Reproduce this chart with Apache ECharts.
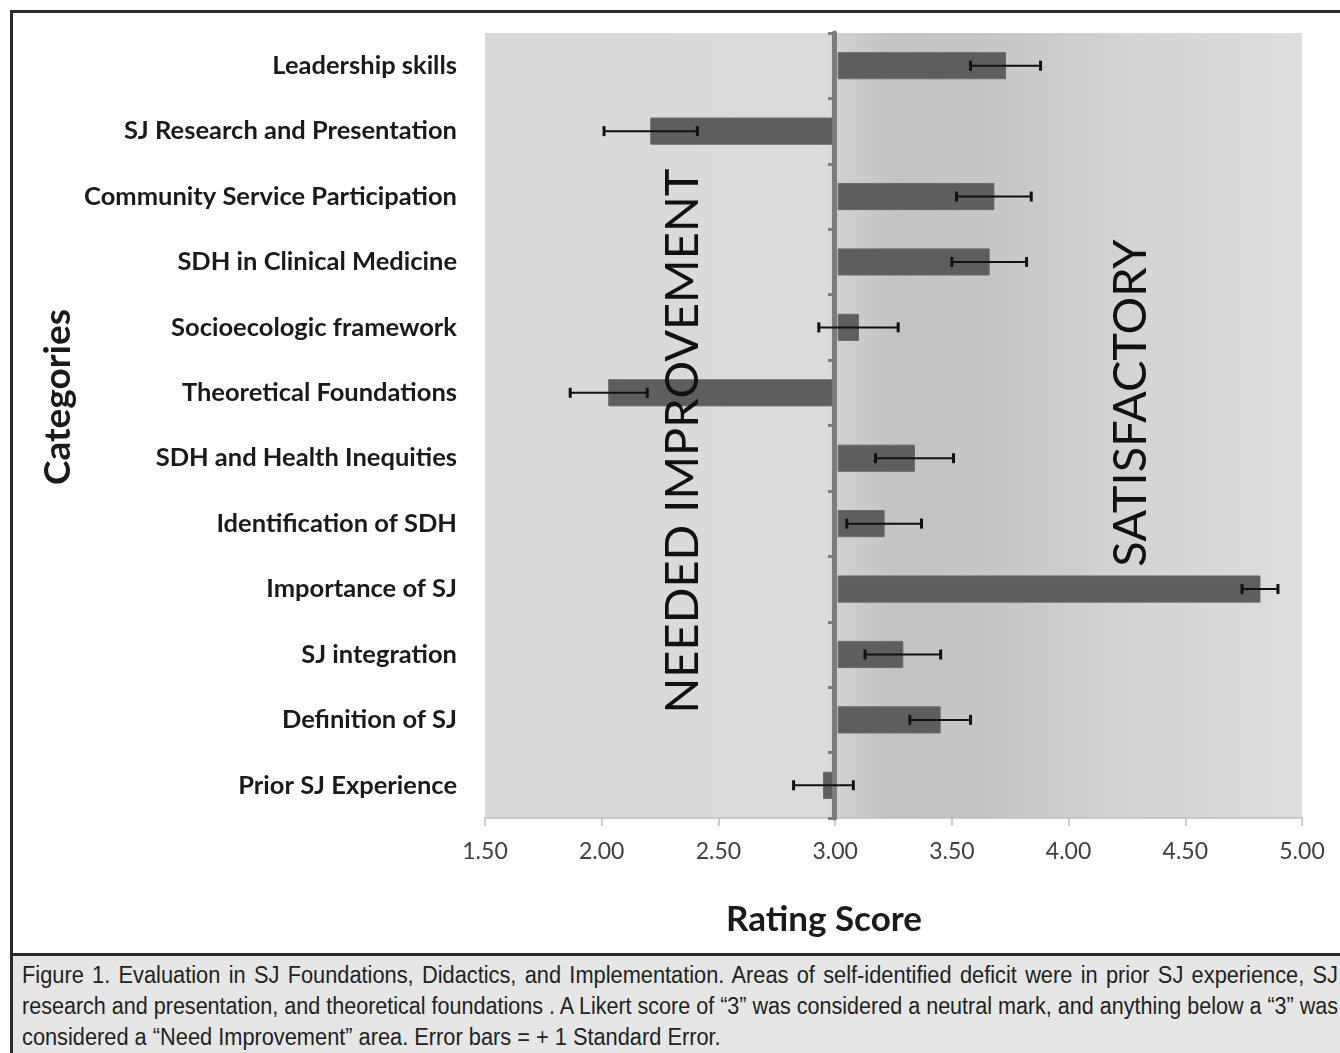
<!doctype html>
<html lang="en">
<head>
    <meta charset="UTF-8">
    <title>Figure 1 - Rating Score</title>
    <script type="text/javascript" src="https://cdn.jsdelivr.net/npm/echarts@6/dist/echarts.min.js"></script>
    <style>
        html, body { margin: 0; padding: 0; background: #fff; }
        body { width: 1340px; height: 1053px; position: relative; overflow: hidden; }
        .frame {
            position: absolute; left: 10px; top: 10px; width: 1340px; height: 1043px;
            border-left: 3px solid #2b2b2b; border-top: 3px solid #2b2b2b; box-sizing: border-box;
        }
        #chart { position: absolute; left: 0; top: 0; width: 1340px; height: 953px; }
        .caption {
            position: absolute; left: 10px; top: 953px; width: 1340px; height: 100px;
            border-left: 3px solid #2b2b2b; border-top: 3px solid #2b2b2b; box-sizing: border-box;
            background: #e6e6e6; padding: 4px 0 0 9px;
            font-family: "Liberation Sans", Arial, sans-serif;
            font-size: 23px; line-height: 31px; color: #222;
        }
        .caption .ln { white-space: nowrap; transform-origin: 0 0; }
        .caption .j { text-align: justify; text-align-last: justify; }
    </style>
</head>
<body>
<div class="frame"></div>
<div id="chart"></div>
<div class="caption">
    <div class="ln j"><span>Figure 1. Evaluation in SJ Foundations, Didactics, and Implementation. Areas of self-identified deficit were in prior SJ experience, SJ</span></div>
    <div class="ln j"><span>research and presentation, and theoretical foundations . A Likert score of “3” was considered a neutral mark, and anything below a “3” was</span></div>
    <div class="ln"><span id="lastText">considered a “Need Improvement” area. Error bars = + 1 Standard Error.</span></div>
</div>
<script>
    // categories, top to bottom
    var categories = ['Leadership skills', 'SJ Research and Presentation', 'Community Service Participation',
        'SDH in Clinical Medicine', 'Socioecologic framework', 'Theoretical Foundations',
        'SDH and Health Inequities', 'Identification of SDH', 'Importance of SJ',
        'SJ integration', 'Definition of SJ', 'Prior SJ Experience'];
    // mean rating scores
    var scores = [3.73, 2.21, 3.68, 3.66, 3.10, 2.03, 3.34, 3.21, 4.82, 3.29, 3.45, 2.95];
    // standard error
    var stdErr = [0.15, 0.20, 0.16, 0.16, 0.17, 0.165, 0.167, 0.16, 0.077, 0.162, 0.13, 0.128];
    var neutral = 3;
    var xTicks = [1.5, 2, 2.5, 3, 3.5, 4, 4.5, 5];

    //caption is a narrow font in the original: squeeze the lines
    (function () {
        var lineW = 1316;
        var s = 699 / document.getElementById('lastText').offsetWidth;
        var lines = document.querySelectorAll('.caption .ln');
        for (var k = 0; k < lines.length; k++) {
            var natural = lines[k].firstElementChild.offsetWidth;
            var sk = Math.min(s, lineW / natural);
            lines[k].style.transform = 'scaleX(' + sk + ')';
            lines[k].style.width = (lineW / sk) + 'px';
        }
    })();

    var chart = echarts.init(document.getElementById('chart'));
    var font = 'Lato, "Open Sans", sans-serif';

    var barData = [], errData = [];
    for (var i = 0; i < categories.length; i++) {
        barData.push([scores[i], i]);
        errData.push([scores[i], i, stdErr[i]]);
    }

    //bars drawn from the neutral mark
    function renderBar(params, api) {
        var idx = api.value(1);
        var p0 = api.coord([neutral, idx]);
        var p1 = api.coord([api.value(0), idx]);
        var h = api.size([0, 1])[1] * 0.4;
        var x = Math.min(p0[0], p1[0]);
        var w = Math.abs(p1[0] - p0[0]);
        if (p1[0] > p0[0]) { x += 3; w -= 3; }
        return {
            type: 'rect',
            shape: { x: x, y: p0[1] - h / 2, width: w, height: h },
            style: { fill: '#5e5e5e', stroke: '#6a6a6a', lineWidth: 1 }
        };
    }
    //error bars
    function renderErr(params, api) {
        var idx = api.value(1);
        var v = api.value(0), e = api.value(2);
        var a = api.coord([v - e, idx]);
        var b = api.coord([v + e, idx]);
        var st = { stroke: '#111', lineWidth: 2 };
        var cap = { stroke: '#111', lineWidth: 3 };
        return {
            type: 'group',
            children: [
                { type: 'line', shape: { x1: a[0], y1: a[1], x2: b[0], y2: b[1] }, style: st },
                { type: 'line', shape: { x1: a[0], y1: a[1] - 5, x2: a[0], y2: a[1] + 5 }, style: cap },
                { type: 'line', shape: { x1: b[0], y1: b[1] - 5, x2: b[0], y2: b[1] + 5 }, style: cap }
            ]
        };
    }

    var option = {
        animation: false,
        grid: {
            left: 485, top: 33, width: 817, bottom: 135,
            show: true, borderWidth: 0,
            backgroundColor: new echarts.graphic.LinearGradient(0, 0, 1, 0, [
                { offset: 0, color: '#d9d9d9' },
                { offset: 0.42, color: '#dbdbdb' },
                { offset: 0.43, color: '#d1d1d1' },
                { offset: 0.5, color: '#c3c3c3' },
                { offset: 0.62, color: '#c6c6c6' },
                { offset: 0.78, color: '#d3d3d3' },
                { offset: 1, color: '#dedede' }
            ])
        },
        xAxis: {
            type: 'value', min: xTicks[0], max: xTicks[xTicks.length - 1], interval: 0.5,
            axisLine: { show: true, lineStyle: { color: '#bdbdbd', width: 1.5 } },
            axisTick: { show: true, length: 8, lineStyle: { color: '#bdbdbd', width: 1.5 } },
            splitLine: { show: false },
            axisLabel: {
                margin: 22, fontFamily: font, fontSize: 23, color: '#404040',
                formatter: function (v) { return v.toFixed(2); }
            }
        },
        yAxis: [{
            type: 'category', data: categories, inverse: true,
            axisLine: { show: false }, axisTick: { show: false },
            axisLabel: { margin: 28, fontFamily: font, fontWeight: 'bold', fontSize: 25.5, color: '#1a1a1a' }
        }, {
            // the neutral (3.00) axis line with its ticks
            type: 'category', data: categories, inverse: true, position: 'left',
            offset: -349, z: 3,
            axisLine: { show: true, lineStyle: { color: '#7c7c7c', width: 5 } },
            axisTick: { show: true, length: 6, lineStyle: { color: '#7c7c7c', width: 3 } },
            axisLabel: { show: false }
        }],
        series: [{
            type: 'custom', name: 'score', renderItem: renderBar, data: barData,
            encode: { x: 0, y: 1 }, z: 1
        }, {
            type: 'custom', name: 'error', renderItem: renderErr, data: errData,
            encode: { x: 0, y: 1 }, z: 5
        }],
        graphic: [{
            type: 'text', x: 683, y: 441, rotation: Math.PI / 2, z: 10,
            style: {
                text: 'NEEDED IMPROVEMENT', font: '47px ' + font, fill: '#111',
                align: 'center', verticalAlign: 'middle'
            }
        }, {
            type: 'text', x: 1131, y: 403, rotation: Math.PI / 2, z: 10,
            style: {
                text: 'SATISFACTORY', font: '47px ' + font, fill: '#111',
                align: 'center', verticalAlign: 'middle'
            }
        }, {
            // axis titles
            type: 'text', x: 58, y: 397, rotation: Math.PI / 2, z: 10,
            style: {
                text: 'Categories', font: 'bold 37px ' + font, fill: '#1a1a1a',
                align: 'center', verticalAlign: 'middle'
            }
        }, {
            type: 'text', x: 824, y: 920, z: 10,
            style: {
                text: 'Rating Score', font: 'bold 35px ' + font, fill: '#1a1a1a',
                align: 'center', verticalAlign: 'middle'
            }
        }]
    };
    chart.setOption(option);
</script>
</body>
</html>
